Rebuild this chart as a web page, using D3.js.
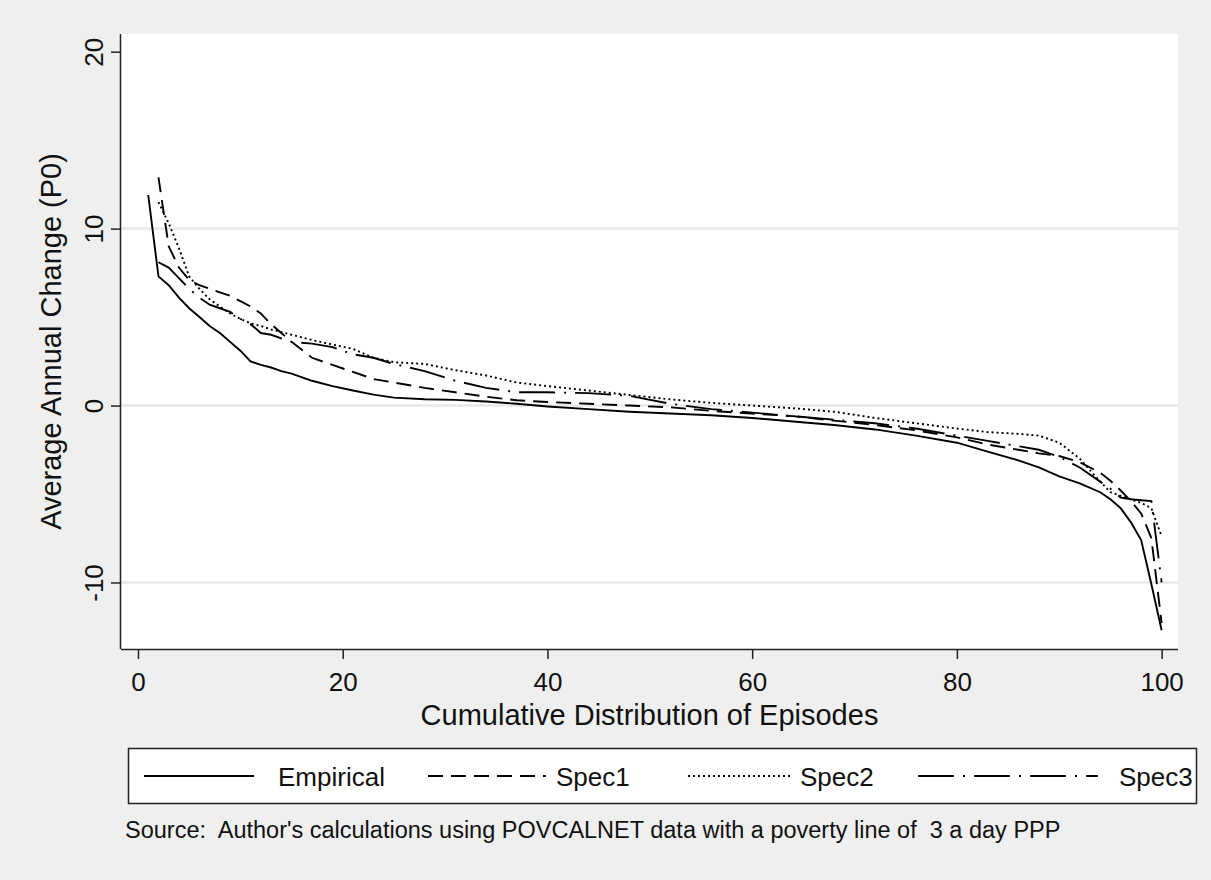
<!DOCTYPE html>
<html>
<head>
<meta charset="utf-8">
<script src="https://cdn.jsdelivr.net/npm/d3@7"></script>
<style>
  html, body { margin: 0; padding: 0; background: #efefef; }
  svg { display: block; }
  text { font-family: "Liberation Sans", Arial, sans-serif; fill: #111; }
</style>
</head>
<body>
<div id="chart"></div>
<script>
// cumulative distribution position of each episode (percent)
var xs = [1, 2, 3, 4, 5, 6, 7, 8, 9, 10, 11, 12, 13, 14, 15, 17, 19, 21, 23, 25, 28, 31, 34, 37, 40,
  44, 48, 52, 56, 60, 64, 68, 72, 76, 80, 83, 86, 88, 90, 92, 94, 95, 96, 97, 98, 99, 100];

var empirical = [11.9, 7.3, 6.8, 6.1, 5.5, 5.0, 4.5, 4.1, 3.6, 3.1, 2.5, 2.3, 2.15, 1.95, 1.8, 1.4, 1.1, 0.85, 0.62, 0.45, 0.36, 0.32, 0.23, 0.1, -0.05,
  -0.2, -0.35, -0.45, -0.55, -0.7, -0.9, -1.1, -1.35, -1.7, -2.1, -2.6, -3.1, -3.5, -4.0, -4.4, -4.9, -5.3, -5.8, -6.6, -7.6, -10.1, -12.7];

var spec1 = [null, 12.9, 9.0, 7.8, 7.1, 6.8, 6.6, 6.4, 6.2, 5.9, 5.6, 5.2, 4.6, 4.1, 3.6, 2.7, 2.3, 1.9, 1.5, 1.3, 1.0, 0.75, 0.5, 0.3, 0.2,
  0.1, 0.0, -0.1, -0.3, -0.45, -0.6, -0.85, -1.1, -1.4, -1.8, -2.2, -2.5, -2.7, -2.85, -3.2, -3.8, -4.25, -4.8, -5.4, -6.1, -7.5, -12.3];

var spec2 = [null, 11.5, 10.3, 8.9, 7.3, 6.6, 6.0, 5.6, 5.2, 4.9, 4.65, 4.5, 4.3, 4.15, 4.0, 3.7, 3.45, 3.2, 2.7, 2.45, 2.35, 2.0, 1.7, 1.3, 1.1,
  0.85, 0.6, 0.35, 0.15, 0.0, -0.15, -0.35, -0.7, -1.0, -1.3, -1.5, -1.6, -1.7, -2.1, -3.0, -4.3, -4.9, -5.1, -5.3, -5.5, -5.8, -7.4];

var spec3 = [null, 8.1, 7.8, 7.2, 6.6, 6.1, 5.7, 5.5, 5.3, 4.9, 4.6, 4.1, 4.0, 3.8, 3.6, 3.5, 3.3, 2.9, 2.7, 2.35, 1.95, 1.4, 1.0, 0.75, 0.75,
  0.7, 0.55, 0.1, -0.2, -0.4, -0.6, -0.8, -1.0, -1.3, -1.7, -2.0, -2.3, -2.5, -2.9, -3.5, -4.3, -4.7, -5.2, -5.3, -5.35, -5.4, -10.0];

var seriesNames = ["Empirical", "Spec1", "Spec2", "Spec3"];
var xTicks = [0, 20, 40, 60, 80, 100];
var yTicks = [-10, 0, 10, 20];
var gridTicks = [-10, 0, 10];

var width = 1211, height = 880;
var plot = { left: 121, right: 1178, top: 34, bottom: 649 };

var series = [
  { name: seriesNames[0], values: empirical, dash: null },
  { name: seriesNames[1], values: spec1, dash: "15,8" },
  { name: seriesNames[2], values: spec2, dash: "2,3" },
  { name: seriesNames[3], values: spec3, dash: "36,9,2,9" }
];

var svg = d3.select("#chart").append("svg")
  .attr("width", width)
  .attr("height", height);

svg.append("rect")
  .attr("width", width).attr("height", height)
  .attr("fill", "#efefef");

var x = d3.scaleLinear().domain([-1.66, 101.6]).range([plot.left, plot.right]);
var y = d3.scaleLinear().domain([-13.76, 21.0]).range([plot.bottom, plot.top]);

// plot region
svg.append("rect")
  .attr("x", plot.left).attr("y", plot.top)
  .attr("width", plot.right - plot.left)
  .attr("height", plot.bottom - plot.top)
  .attr("fill", "#fff");

svg.selectAll(".grid")
  .data(gridTicks)
  .enter()
  .append("line")
  .attr("class", "grid")
  .attr("x1", plot.left).attr("x2", plot.right)
  .attr("y1", function (d) { return y(d); })
  .attr("y2", function (d) { return y(d); })
  .attr("stroke", "#e8e8e8")
  .attr("stroke-width", 2.5);

// axes
var xAxis = svg.append("g")
  .attr("transform", "translate(0," + plot.bottom + ")")
  .call(d3.axisBottom(x).tickValues(xTicks).tickSize(10).tickPadding(14));
var yAxis = svg.append("g")
  .attr("transform", "translate(" + plot.left + ",0)")
  .call(d3.axisLeft(y).tickValues(yTicks).tickSize(10)
    .tickFormat(function (d) { return String(d); }));

[xAxis, yAxis].forEach(function (g) {
  g.select(".domain").attr("stroke", "#222").attr("stroke-width", 1.5)
    .attr("d", g === xAxis
      ? "M" + plot.left + ",0.5H" + plot.right
      : "M-0.5," + plot.top + "V" + plot.bottom);
  g.selectAll(".tick line").attr("stroke", "#222").attr("stroke-width", 1.5);
  g.selectAll(".tick text").attr("font-size", 26).attr("fill", "#111")
    .attr("font-family", "Liberation Sans, Arial, sans-serif");
});

yAxis.selectAll(".tick text")
  .attr("x", null).attr("dy", null)
  .attr("text-anchor", "middle")
  .attr("transform", "translate(-18,0) rotate(-90)");

// axis titles
svg.append("text")
  .attr("x", (plot.left + plot.right) / 2)
  .attr("y", 725)
  .attr("text-anchor", "middle")
  .attr("font-size", 29)
  .text("Cumulative Distribution of Episodes");

svg.append("text")
  .attr("transform", "translate(61," + ((plot.top + plot.bottom) / 2) + ") rotate(-90)")
  .attr("text-anchor", "middle")
  .attr("font-size", 29)
  .text("Average Annual Change (P0)");

// lines
var line = d3.line()
  .defined(function (d) { return d[1] !== null; })
  .x(function (d) { return x(d[0]); })
  .y(function (d) { return y(d[1]); });

svg.append("g")
  .selectAll("path")
  .data(series)
  .enter()
  .append("path")
  .attr("d", function (s) {
    return line(xs.map(function (v, i) { return [v, s.values[i]]; }));
  })
  .attr("fill", "none")
  .attr("stroke", "#000")
  .attr("stroke-width", 1.9)
  .attr("stroke-dasharray", function (s) { return s.dash; });

// legend
var legend = svg.append("g");
legend.append("rect")
  .attr("x", 128.5).attr("y", 748.5)
  .attr("width", 1068).attr("height", 55)
  .attr("fill", "#fff")
  .attr("stroke", "#222")
  .attr("stroke-width", 1.5);

var keyX = [144, 428, 688, 918];
var keyLen = [110, 118, 102, 180];
var labelX = [278, 556, 800, 1119];

var item = legend.selectAll(".key")
  .data(series)
  .enter()
  .append("g")
  .attr("class", "key");

item.append("line")
  .attr("x1", function (d, i) { return keyX[i]; })
  .attr("x2", function (d, i) { return keyX[i] + keyLen[i]; })
  .attr("y1", 776).attr("y2", 776)
  .attr("stroke", "#000")
  .attr("stroke-width", 1.9)
  .attr("stroke-dasharray", function (d) { return d.dash; });

item.append("text")
  .attr("x", function (d, i) { return labelX[i]; })
  .attr("y", 786)
  .attr("font-size", 26)
  .text(function (d) { return d.name; });

svg.append("text")
  .attr("x", 125)
  .attr("y", 838)
  .attr("font-size", 23.5)
  .style("white-space", "pre")
  .text("Source:  Author's calculations using POVCALNET data with a poverty line of  3 a day PPP");
</script>
</body>
</html>
